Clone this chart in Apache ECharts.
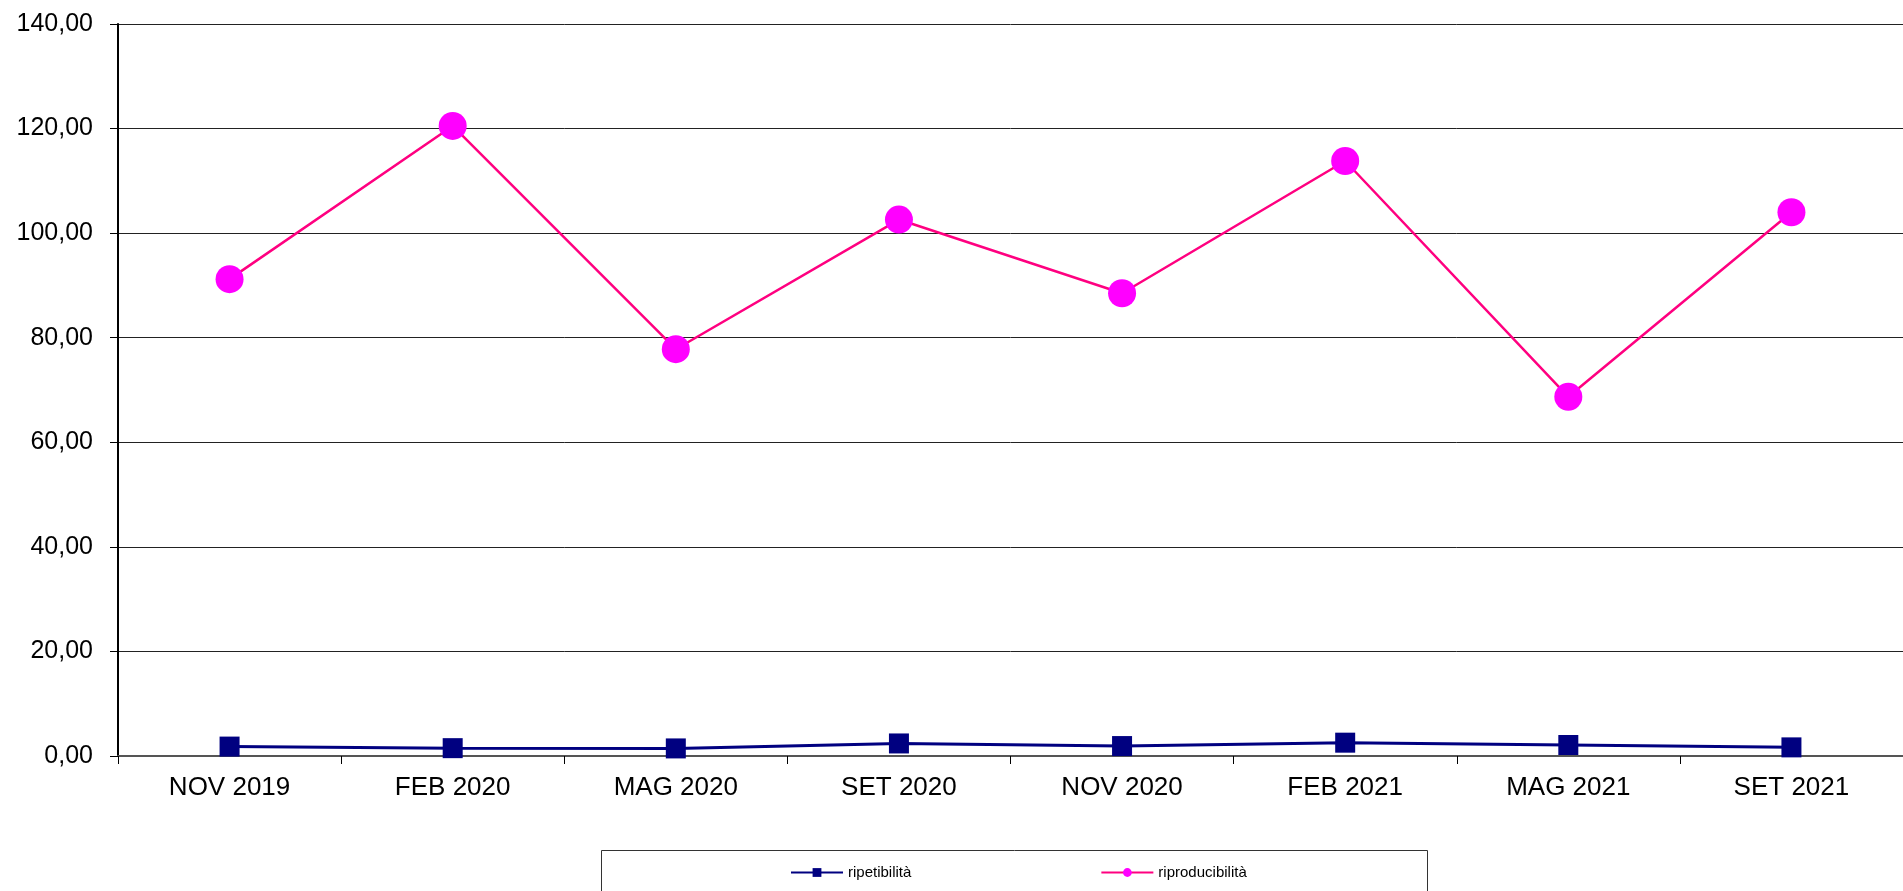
<!DOCTYPE html>
<html>
<head>
<meta charset="utf-8">
<script src="https://cdn.jsdelivr.net/npm/echarts@6/dist/echarts.min.js"></script>
<style>
html,body{margin:0;padding:0;background:#fff;}
#chart{width:1903px;height:891px;}
</style>
</head>
<body>
<div id="chart"></div>
<script>
const categories = ['NOV 2019','FEB 2020','MAG 2020','SET 2020','NOV 2020','FEB 2021','MAG 2021','SET 2021'];
const ripetibilita = [1.8, 1.5, 1.45, 2.4, 1.9, 2.55, 2.1, 1.65];
const riproducibilita = [91.2, 120.5, 77.8, 102.6, 88.5, 113.8, 68.7, 104.0];
const seriesNames = ['ripetibilità', 'riproducibilità'];

const chart = echarts.init(document.getElementById('chart'), null, {renderer: 'canvas'});
const font = '"Liberation Sans", Arial, sans-serif';
chart.setOption({
  animation: false,
  backgroundColor: '#fff',
  grid: {left: 118, top: 24, right: -19, bottom: 135, containLabel: false},
  legend: {
    left: 790, top: 865, padding: 0,
    itemWidth: 52, itemHeight: 11, itemGap: 189,
    textStyle: {fontFamily: font, fontSize: 15, color: '#000'},
    data: seriesNames
  },
  graphic: [{
    type: 'rect', silent: true,
    shape: {x: 601.5, y: 850.5, width: 826, height: 60},
    style: {fill: 'none', stroke: '#333', lineWidth: 1}
  }],
  xAxis: {
    type: 'category', data: categories, boundaryGap: true,
    axisLine: {lineStyle: {color: '#555', width: 2}},
    axisTick: {show: true, length: 8, lineStyle: {color: '#000', width: 1}},
    axisLabel: {fontFamily: font, fontSize: 26, color: '#000', margin: 19},
    splitLine: {show: false}
  },
  yAxis: {
    type: 'value', min: 0, max: 140, interval: 20,
    axisLine: {show: true, lineStyle: {color: '#000', width: 2}},
    axisTick: {show: true, length: 8, lineStyle: {color: '#000', width: 1}},
    axisLabel: {fontFamily: font, fontSize: 25, color: '#000', margin: 25,
      formatter: v => v.toFixed(2).replace('.', ',')},
    splitLine: {show: true, lineStyle: {color: '#222', width: 1}}
  },
  series: [
    {
      name: seriesNames[0], type: 'line', data: ripetibilita,
      symbol: 'rect', symbolSize: 20,
      lineStyle: {color: '#000080', width: 3},
      itemStyle: {color: '#000080'}
    },
    {
      name: seriesNames[1], type: 'line', data: riproducibilita,
      symbol: 'circle', symbolSize: 28,
      lineStyle: {color: '#FF0080', width: 2.5},
      itemStyle: {color: '#FF00FF'}
    }
  ]
});
</script>
</body>
</html>
